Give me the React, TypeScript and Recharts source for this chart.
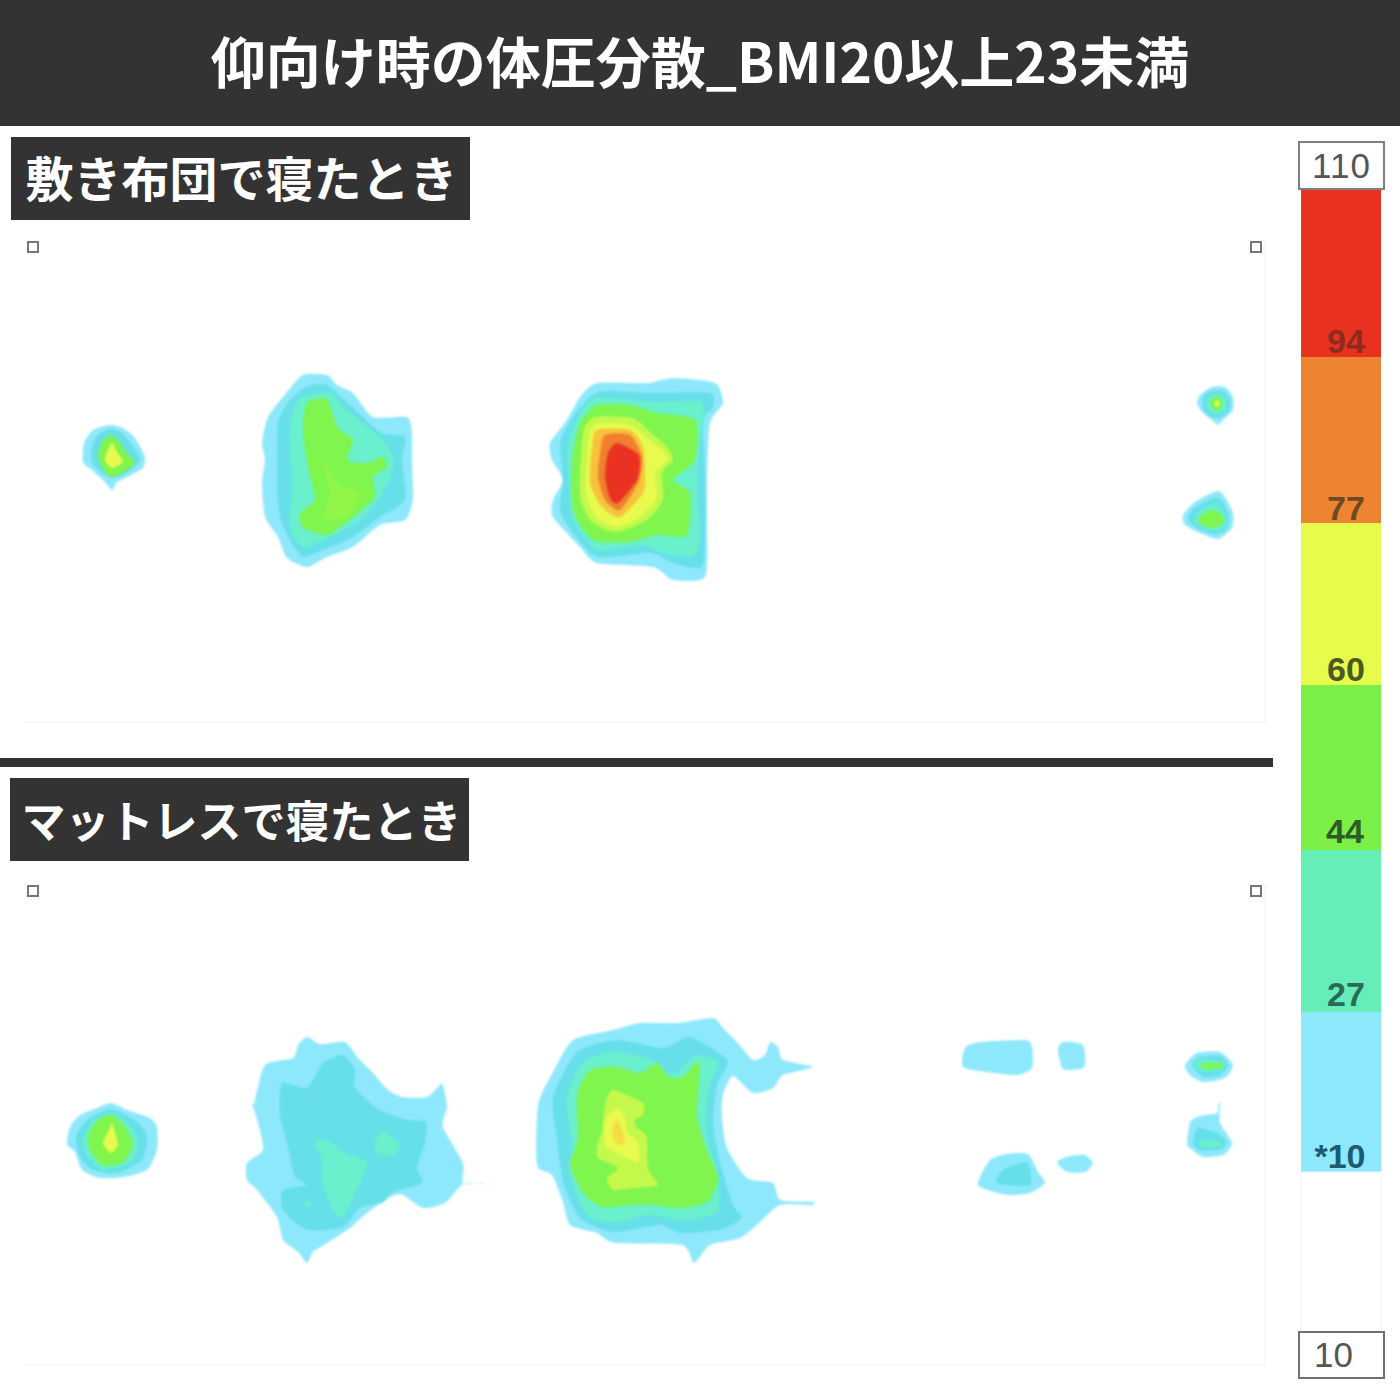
import React from 'react';
import { ScatterChart, Scatter, XAxis, YAxis, ReferenceArea, ReferenceDot, ReferenceLine } from 'recharts';

type Pt = [number, number];

const titleText = '仰向け時の体圧分散_BMI20以上23未満';
const futonLabel = '敷き布団で寝たとき';
const mattressLabel = 'マットレスで寝たとき';

const BLUE = '#8EE8FB', TEAL = '#66DFE8', MINT = '#6BF0CC', GREEN = '#7FF54E', LIME = '#C4F84C', YELLOW = '#E8FA4E', AMBER = '#F8C23E', ORANGE = '#F0802E', RED = '#EA3322';

// Futon panel
const fHead1: Pt[] = [[110,425],[123,428],[135,438],[145,457],[143,468],[127,477],[117,482],[112,490],[103,480],[92,470],[83,462],[84,443],[93,430]];
const fHead2: Pt[] = [[110,429],[122,433],[132,445],[140,460],[127,473],[113,478],[102,473],[92,463],[92,447],[98,435]];
const fHead3: Pt[] = [[110,435],[118,440],[127,453],[135,463],[122,473],[110,477],[102,467],[98,457],[102,442]];
const fHead4: Pt[] = [[112,443],[117,452],[123,462],[112,468],[105,460],[108,450]];

const fBack1: Pt[] = [[303,375],[327,375],[337,385],[353,393],[373,417],[407,417],[412,433],[412,460],[413,500],[405,520],[380,525],[353,547],[327,557],[307,567],[287,558],[278,537],[265,517],[262,483],[265,460],[262,443],[268,417],[287,392]];
const fBack2: Pt[] = [[308,386],[327,385],[347,402],[380,432],[405,437],[402,460],[405,500],[380,517],[353,537],[323,550],[303,557],[290,540],[280,517],[277,483],[278,423],[290,400]];
const fBack3: Pt[] = [[300,398],[330,393],[343,407],[380,437],[393,457],[393,467],[383,493],[360,520],[330,537],[303,547],[290,527],[292,487],[290,427]];
const fBack4: Pt[] = [[307,403],[327,399],[337,427],[353,440],[347,460],[367,463],[382,457],[387,467],[373,477],[375,497],[353,517],[327,535],[303,527],[300,513],[315,500],[308,467],[303,430]];
const fBack5: Pt[] = [[323,460],[337,483],[360,493],[347,517],[323,520],[330,493]];

const fHip1: Pt[] = [[597,383],[647,383],[673,378],[715,383],[723,403],[710,423],[707,480],[707,527],[705,577],[673,580],[653,567],[597,563],[580,547],[553,517],[553,500],[563,480],[552,460],[550,443],[567,420],[580,397]];
const fHip2: Pt[] = [[598,392],[647,393],[710,393],[712,410],[703,420],[705,477],[705,527],[702,567],[673,563],[650,553],[597,557],[573,533],[560,510],[563,480],[560,443],[573,417]];
const fHip3: Pt[] = [[597,398],[657,402],[702,403],[700,443],[697,477],[700,537],[693,557],[663,553],[640,545],[597,550],[573,520],[570,493],[568,447],[580,413]];
const fHip4: Pt[] = [[597,405],[630,405],[657,413],[695,420],[695,460],[673,480],[690,493],[687,535],[657,535],[630,542],[593,540],[573,510],[572,460],[580,423]];
const fHip5: Pt[] = [[595,417],[633,418],[650,432],[667,447],[673,460],[662,473],[663,500],[647,520],[617,532],[593,523],[580,497],[583,433]];
const fHip6: Pt[] = [[597,424],[630,425],[647,438],[663,451],[668,460],[655,473],[657,497],[640,517],[617,527],[597,518],[586,493],[589,438]];
const fHip7: Pt[] = [[597,430],[630,430],[643,447],[645,473],[643,493],[620,517],[602,507],[590,483],[592,447]];
const fHip8: Pt[] = [[605,435],[630,435],[642,457],[638,483],[620,510],[605,500],[598,477],[600,453]];
const fHip9: Pt[] = [[617,443],[637,453],[640,463],[637,480],[618,503],[610,498],[605,477],[608,453]];

const fHeelA1: Pt[] = [[1212,387],[1225,387],[1233,397],[1233,410],[1223,420],[1218,425],[1212,420],[1202,412],[1197,403],[1200,395]];
const fHeelA2: Pt[] = [[1213,391],[1224,391],[1230,400],[1229,411],[1220,418],[1211,417],[1204,410],[1202,402],[1205,394]];
const fHeelA3: Pt[] = [[1216,394],[1224,397],[1227,404],[1223,412],[1216,414],[1209,410],[1206,403],[1210,396]];
const fHeelA4: Pt[] = [[1216,396],[1223,403],[1217,411],[1210,404]];
const fHeelA5: Pt[] = [[1217,400],[1220,403],[1217,407],[1214,403]];
const fHeelB1: Pt[] = [[1217,491],[1225,497],[1233,513],[1232,528],[1218,539],[1200,533],[1185,525],[1183,515],[1195,502]];
const fHeelB2: Pt[] = [[1217,497],[1225,505],[1229,520],[1224,532],[1212,534],[1197,528],[1188,520],[1192,510],[1203,503]];
const fHeelB3: Pt[] = [[1216,503],[1224,512],[1226,522],[1220,530],[1205,529],[1195,522],[1198,513],[1207,507]];
const fHeelB4: Pt[] = [[1212,510],[1221,514],[1224,521],[1215,528],[1204,526],[1198,521],[1203,514]];

// Mattress panel
const mHead1: Pt[] = [[111,1103],[127,1110],[150,1118],[157,1127],[157,1150],[147,1170],[123,1177],[100,1178],[82,1170],[75,1152],[67,1144],[70,1127],[80,1115],[97,1108]];
const mHead2: Pt[] = [[111,1109],[137,1122],[147,1137],[142,1160],[117,1173],[93,1170],[80,1157],[76,1137],[87,1120]];
const mHead3: Pt[] = [[112,1113],[128,1123],[138,1143],[130,1163],[103,1170],[88,1157],[83,1140],[92,1122]];
const mHead4: Pt[] = [[112,1115],[125,1127],[133,1145],[122,1163],[102,1165],[90,1150],[88,1135],[98,1120]];
const mHead5: Pt[] = [[112,1124],[118,1144],[111,1153],[103,1143],[109,1130]];

const mBack1: Pt[] = [[307,1037],[320,1044],[345,1042],[358,1058],[373,1073],[388,1090],[403,1097],[427,1097],[440,1085],[443,1085],[447,1107],[443,1127],[463,1163],[463,1183],[482,1183],[482,1184],[463,1184],[445,1203],[423,1208],[403,1195],[390,1197],[367,1213],[350,1228],[327,1243],[313,1252],[307,1263],[298,1252],[283,1240],[277,1217],[257,1190],[247,1180],[247,1163],[263,1150],[258,1123],[253,1107],[247,1105],[254,1103],[265,1065],[293,1058],[298,1045]];
const mBack2: Pt[] = [[343,1055],[355,1070],[355,1088],[380,1110],[407,1120],[426,1122],[425,1143],[417,1167],[422,1183],[393,1192],[383,1202],[360,1208],[343,1227],[307,1230],[283,1210],[283,1190],[307,1185],[295,1177],[288,1147],[280,1115],[282,1083],[307,1088],[323,1063]];
const mBack3: Pt[] = [[327,1140],[343,1152],[367,1163],[355,1193],[343,1217],[333,1210],[323,1183],[322,1160],[315,1143]];
const mBack4: Pt[] = [[383,1131],[400,1145],[393,1155],[377,1153],[375,1142]];
const mBack5: Pt[] = [[305,1202],[311,1201],[312,1205],[305,1206]];

const mHip1: Pt[] = [[713,1018],[723,1028],[737,1042],[753,1060],[765,1055],[770,1042],[778,1047],[783,1060],[813,1067],[783,1075],[773,1088],[753,1093],[733,1076],[723,1095],[722,1118],[727,1148],[747,1178],[773,1183],[780,1200],[812,1202],[812,1205],[780,1205],[760,1222],[740,1238],[710,1245],[694,1263],[682,1245],[615,1243],[597,1233],[570,1225],[563,1202],[552,1175],[537,1165],[538,1105],[553,1072],[573,1040],[613,1030],[640,1023],[677,1023]];
const mHip2: Pt[] = [[617,1040],[663,1048],[690,1037],[727,1060],[717,1085],[713,1122],[720,1162],[733,1205],[742,1218],[720,1230],[680,1233],[660,1225],[613,1232],[580,1218],[563,1182],[557,1138],[553,1098],[577,1052]];
const mHip3: Pt[] = [[613,1052],[647,1058],[670,1073],[680,1070],[697,1055],[718,1063],[707,1095],[707,1138],[718,1175],[717,1212],[680,1220],[653,1215],[613,1222],[587,1215],[570,1175],[572,1145],[567,1098],[583,1062]];
const mHip4: Pt[] = [[617,1067],[640,1073],[657,1063],[668,1077],[683,1077],[695,1063],[700,1068],[697,1115],[705,1145],[718,1178],[707,1202],[680,1208],[653,1205],[630,1205],[603,1207],[585,1195],[570,1165],[578,1138],[577,1095],[590,1070]];
const mHip5: Pt[] = [[613,1090],[643,1103],[643,1115],[635,1120],[637,1128],[647,1137],[648,1168],[658,1185],[633,1188],[613,1190],[607,1178],[618,1168],[598,1158],[597,1145],[602,1132],[605,1105]];
const mHip6: Pt[] = [[618,1108],[625,1118],[627,1132],[638,1142],[638,1162],[620,1155],[605,1145],[605,1122],[610,1113]];
const mHip7: Pt[] = [[617,1120],[622,1130],[625,1142],[618,1145],[613,1137],[613,1127]];

const mPadA: Pt[] = [[965,1048],[980,1042],[1025,1040],[1032,1047],[1032,1068],[1017,1075],[987,1072],[963,1067]];
const mPadB: Pt[] = [[1063,1042],[1083,1045],[1085,1065],[1080,1069],[1063,1069],[1058,1050]];
const mPadC1: Pt[] = [[990,1160],[1007,1154],[1028,1154],[1038,1172],[1045,1183],[1030,1193],[1007,1195],[982,1188],[978,1182]];
const mPadC2: Pt[] = [[1003,1170],[1027,1162],[1030,1185],[997,1183]];
const mPadD: Pt[] = [[1057,1162],[1070,1156],[1085,1155],[1093,1163],[1085,1172],[1067,1172]];
const mHeelA1: Pt[] = [[1185,1065],[1197,1053],[1220,1052],[1233,1065],[1225,1078],[1203,1082],[1190,1075]];
const mHeelA2: Pt[] = [[1192,1065],[1200,1057],[1220,1056],[1228,1065],[1220,1075],[1203,1077]];
const mHeelA3: Pt[] = [[1193,1065],[1202,1059],[1223,1062],[1223,1068],[1203,1072]];
const mHeelA4: Pt[] = [[1203,1063],[1222,1064],[1222,1068],[1203,1069]];
const mHeelB1: Pt[] = [[1200,1116],[1217,1113],[1218,1104],[1220,1104],[1220,1123],[1232,1143],[1223,1155],[1203,1157],[1190,1148],[1187,1143],[1190,1122]];
const mHeelB2: Pt[] = [[1198,1128],[1217,1133],[1227,1142],[1220,1150],[1200,1150],[1193,1143]];
const mHeelB3: Pt[] = [[1200,1140],[1222,1143],[1217,1148],[1202,1147]];

const contours: [Pt[], string][] = [
  [fHead1, BLUE], [fHead2, TEAL], [fHead3, GREEN], [fHead4, YELLOW],
  [fBack1, BLUE], [fBack2, TEAL], [fBack3, MINT], [fBack4, GREEN], [fBack5, '#92F648'],
  [fHip1, BLUE], [fHip2, TEAL], [fHip3, MINT], [fHip4, GREEN], [fHip5, LIME], [fHip6, YELLOW], [fHip7, AMBER], [fHip8, ORANGE], [fHip9, RED],
  [fHeelA1, BLUE], [fHeelA2, TEAL], [fHeelA3, MINT], [fHeelA4, GREEN], [fHeelA5, YELLOW],
  [fHeelB1, BLUE], [fHeelB2, TEAL], [fHeelB3, MINT], [fHeelB4, GREEN],
  [mHead1, BLUE], [mHead2, TEAL], [mHead3, MINT], [mHead4, GREEN], [mHead5, YELLOW],
  [mBack1, BLUE], [mBack2, TEAL], [mBack3, MINT], [mBack4, MINT], [mBack5, MINT],
  [mHip1, BLUE], [mHip2, TEAL], [mHip3, MINT], [mHip4, GREEN], [mHip5, LIME], [mHip6, YELLOW], [mHip7, '#F4DC44'],
  [mPadA, BLUE], [mPadB, BLUE], [mPadC1, BLUE], [mPadC2, TEAL], [mPadD, BLUE],
  [mHeelA1, BLUE], [mHeelA2, TEAL], [mHeelA3, MINT], [mHeelA4, GREEN],
  [mHeelB1, BLUE], [mHeelB2, TEAL], [mHeelB3, MINT],
];

// Colour scale
const scaleEdges = [189, 357, 523, 685, 850, 1012, 1172, 1332];
const scaleColors = ['#E8321F', '#EC8432', '#E6FB4B', '#7CEE48', '#66EDB8', '#8EE8FB', '#FFFFFF'];
const scaleLabels = ['94', '77', '60', '44', '27', '*10'];
const scaleLabelX = [1346, 1346, 1346, 1345, 1346, 1340];
const scaleLabelY = [341, 508, 669, 831, 994, 1156];
const scaleLabelColors = ['#8E2A20', '#6E4A22', '#4A5A20', '#2C5C28', '#2A6A58', '#1E5A70'];

const cornerMarks = [{ x: 33, y: 247 }, { x: 1256, y: 247 }, { x: 33, y: 891 }, { x: 1256, y: 891 }];

// Closed rounded curve through the contour vertices (a drawing style for the library's Curve).
function softClosed(ctx: any) {
  let pts: number[][] = [];
  const k = 0.11;
  return {
    areaStart() {}, areaEnd() {},
    lineStart() { pts = []; },
    point(x: number, y: number) { pts.push([+x, +y]); },
    lineEnd() {
      const n = pts.length;
      if (!n) return;
      ctx.moveTo(pts[0][0], pts[0][1]);
      for (let i = 0; i < n; i++) {
        const p0 = pts[(i - 1 + n) % n], p1 = pts[i], p2 = pts[(i + 1) % n], p3 = pts[(i + 2) % n];
        ctx.bezierCurveTo(
          p1[0] + (p2[0] - p0[0]) * k, p1[1] + (p2[1] - p0[1]) * k,
          p2[0] - (p3[0] - p1[0]) * k, p2[1] - (p3[1] - p1[1]) * k,
          p2[0], p2[1],
        );
      }
      ctx.closePath();
    },
  };
}

const JP = '"Noto Sans CJK JP", sans-serif';
const none = () => <g />;
const markShape = (p: any) => <rect x={p.cx - 5} y={p.cy - 5} width={10} height={10} fill="#fff" stroke="#777" strokeWidth={2} />;

export default function App() {
  return (
    <div style={{ position: 'absolute', left: 0, top: 0, width: 1400, height: 1400, background: '#fff' }}>
      <ScatterChart width={1400} height={1400} margin={{ top: 0, right: 0, bottom: 0, left: 0 }}>
        <defs>
          <filter id="soft" x="-10%" y="-10%" width="120%" height="120%"><feGaussianBlur stdDeviation="1.2" /></filter>
        </defs>
        <XAxis type="number" dataKey="x" domain={[0, 1400]} hide />
        <YAxis type="number" dataKey="y" domain={[0, 1400]} reversed hide />

        {[722, 1365].map((y) => (
          <ReferenceLine key={y} segment={[{ x: 24, y }, { x: 1265, y }]} stroke="#F0F0F0" strokeWidth={1} />
        ))}
        {[[240, 722], [885, 1365]].map(([a, b]) => (
          <ReferenceLine key={a} segment={[{ x: 1265, y: a }, { x: 1265, y: b }]} stroke="#F0F0F0" strokeWidth={1} />
        ))}

        {contours.map(([pts, color], i) => (
          <Scatter
            key={i}
            data={pts.map(([x, y]) => ({ x, y }))}
            isAnimationActive={false}
            shape={none}
            line={{ fill: color, stroke: 'none', filter: 'url(#soft)' }}
            lineType="joint"
            lineJointType={softClosed as any}
          />
        ))}
        <Scatter data={cornerMarks} isAnimationActive={false} shape={markShape} />

        <ReferenceArea x1={0} x2={1400} y1={0} y2={126} fill="#333333" fillOpacity={1} stroke="none"
          label={{ value: titleText, position: 'center', fill: '#fff', fontSize: 55, fontWeight: 700, fontFamily: JP }} />
        <ReferenceArea x1={11} x2={470} y1={137} y2={220} fill="#333333" fillOpacity={1} stroke="none"
          label={{ value: futonLabel, position: 'center', fill: '#fff', fontSize: 48, fontWeight: 700, fontFamily: JP, dx: 1, dy: 1 }} />
        <ReferenceArea x1={10} x2={469} y1={778} y2={861} fill="#333333" fillOpacity={1} stroke="none"
          label={{ value: mattressLabel, position: 'center', fill: '#fff', fontSize: 44, fontWeight: 700, fontFamily: JP, dx: 2, dy: 3 }} />
        <ReferenceArea x1={0} x2={1273} y1={758} y2={767} fill="#333333" fillOpacity={1} stroke="none" />

        {scaleColors.map((c, i) => (
          <ReferenceArea key={c} x1={1301} x2={1381} y1={scaleEdges[i]} y2={scaleEdges[i + 1]} fill={c} fillOpacity={1} stroke={c === '#FFFFFF' ? '#F2F2F2' : 'none'} />
        ))}
        <ReferenceArea x1={1299} x2={1384} y1={142} y2={189} fill="#fff" fillOpacity={1} stroke="#808080" strokeWidth={2}
          label={{ value: '110', position: 'center', fill: '#555', fontSize: 35, fontFamily: '"Liberation Sans", sans-serif', letterSpacing: 1 }} />
        <ReferenceArea x1={1299} x2={1384} y1={1332} y2={1378} fill="#fff" fillOpacity={1} stroke="#707070" strokeWidth={2}
          label={{ value: '10', position: 'center', fill: '#555', fontSize: 35, dx: -8, fontFamily: '"Liberation Sans", sans-serif' }} />
        {scaleLabels.map((t, i) => (
          <ReferenceDot key={t} x={scaleLabelX[i]} y={scaleLabelY[i]} r={0} stroke="none" fill="none"
            label={{ value: t, position: 'center', fill: scaleLabelColors[i], fontSize: 34, fontWeight: 700, fontFamily: '"Liberation Sans", sans-serif' }} />
        ))}
      </ScatterChart>
    </div>
  );
}
